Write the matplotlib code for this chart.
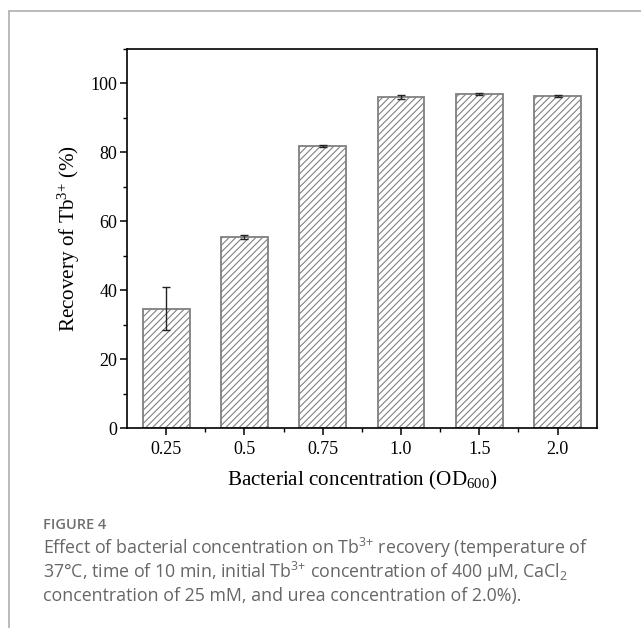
import numpy as np
import matplotlib
matplotlib.use("Agg")
import matplotlib.pyplot as plt
from matplotlib.ticker import MultipleLocator, FixedLocator

plt.rcParams['hatch.color'] = '#555555'
plt.rcParams['hatch.linewidth'] = 0.8

# data
od_labels = ["0.25", "0.5", "0.75", "1.0", "1.5", "2.0"]
recovery = [34.7, 55.6, 82.0, 96.1, 97.0, 96.3]
recovery_err = [6.2, 0.6, 0.3, 0.6, 0.2, 0.3]

serif = "Liberation Serif"
sans = "Open Sans"

fig = plt.figure(figsize=(6.41, 6.28), dpi=100)
ax = fig.add_axes([0.198, 0.318, 0.733, 0.604])

x = np.arange(len(od_labels))
ax.bar(x, recovery, width=0.6, color="white", edgecolor="#808080",
       linewidth=1.3, hatch="/////", zorder=2)
ax.errorbar(x, recovery, yerr=recovery_err, fmt="none", ecolor="#222222",
            elinewidth=1.0, capsize=3, capthick=1.0, zorder=3)

ax.set_xlim(-0.5, len(od_labels) - 0.5)
ax.set_ylim(0, 110)
ax.set_xticks(x)
ax.set_xticklabels(od_labels, fontfamily=serif, fontsize=13)
ax.xaxis.set_minor_locator(FixedLocator(x[:-1] + 0.5))
ax.yaxis.set_major_locator(MultipleLocator(20))
ax.yaxis.set_minor_locator(MultipleLocator(10))
for lab in ax.get_yticklabels():
    lab.set_fontfamily(serif)
    lab.set_fontsize(13)
ax.tick_params(which="major", direction="out", length=5, width=1.1, pad=2)
ax.tick_params(axis="x", which="major", pad=4)
ax.tick_params(which="minor", direction="out", length=3, width=1.0)
ax.tick_params(top=False, right=False, which="both")
for s in ax.spines.values():
    s.set_linewidth(1.2)

ax.set_ylabel(r"Recovery of Tb$\mathregular{^{3{+}}}$ (%)", fontfamily=serif,
              fontsize=15.2, labelpad=6)
ax.set_xlabel(r"Bacterial concentration (OD$\mathregular{_{600}}$)",
              fontfamily=serif, fontsize=15.2, labelpad=8)

# outer frame lines (top and left)
fig.add_artist(plt.Line2D([9 / 641, 1], [1 - 11 / 628, 1 - 11 / 628],
                          color="#b5b5b5", lw=1.3, transform=fig.transFigure))
fig.add_artist(plt.Line2D([9 / 641, 9 / 641], [0, 1 - 11 / 628],
                          color="#b5b5b5", lw=1.3, transform=fig.transFigure))

cap_color = "#666666"
fig.text(43 / 641, 1 - 525 / 628, "FIGURE 4", fontfamily=sans, fontsize=10.5,
         fontweight="semibold", color="#707070", va="center", ha="left")
caption = [
    r"Effect of bacterial concentration on Tb$\mathregular{^{3{+}}}$ recovery (temperature of",
    r"37°C, time of 10 min, initial Tb$\mathregular{^{3{+}}}$ concentration of 400 μM, CaCl$\mathregular{_2}$",
    "concentration of 25 mM, and urea concentration of 2.0%).",
]
for i, line in enumerate(caption):
    fig.text(43 / 641, 1 - (548 + 24 * i) / 628, line, fontfamily=sans,
             fontsize=12.8, color=cap_color, va="center", ha="left")

fig.savefig("out.png", dpi=100)
